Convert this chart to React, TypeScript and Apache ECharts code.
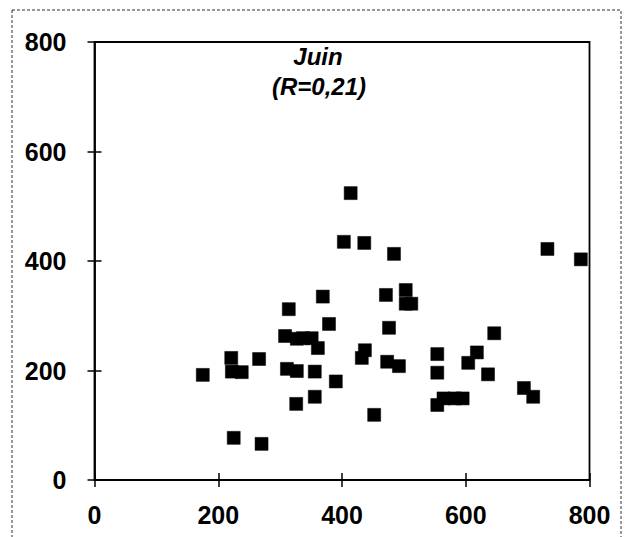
import React, { useEffect, useRef } from "react";
import * as echarts from "echarts";

const xValues = [175, 221, 222, 238, 266, 225, 270, 314, 308, 327, 337, 351, 361, 311, 327, 356, 326, 356, 369, 379, 390, 414, 403, 436, 484, 471, 476, 437, 432, 473, 492, 452, 503, 503, 512, 646, 554, 554, 554, 564, 582, 595, 618, 604, 636, 694, 709, 732, 786];
const yValues = [192, 223, 198, 197, 221, 77, 66, 312, 263, 258, 259, 259, 241, 203, 199, 198, 139, 152, 335, 285, 180, 524, 435, 433, 413, 338, 278, 237, 223, 216, 208, 119, 347, 322, 322, 268, 230, 196, 137, 149, 149, 149, 233, 214, 193, 168, 152, 422, 403];
const axisTicks = [0, 200, 400, 600, 800];
const titleText = "Juin";
const subText = "(R=0,21)";

export default function App() {
  const ref = useRef<HTMLDivElement>(null);
  useEffect(() => {
    document.body.style.margin = "0";
    const chart = echarts.init(ref.current!, undefined, { renderer: "svg" });
    const points = xValues.map((x, i) => [x, yValues[i]]);
    const font = "'Liberation Sans', Arial, sans-serif";
    const baseAxis = {
      type: "value",
      min: axisTicks[0],
      max: axisTicks[axisTicks.length - 1],
      interval: 200,
      splitLine: { show: false },
      axisLine: { show: true, lineStyle: { color: "#000", width: 1.8 } },
    };
    chart.setOption({
      animation: false,
      backgroundColor: "#fff",
      grid: {
        left: 94.5,
        top: 42,
        right: 37.5,
        bottom: 57,
        show: true,
        borderColor: "#000",
        borderWidth: 1.8,
        backgroundColor: "transparent",
      },
      xAxis: [
        {
          ...baseAxis,
          position: "bottom",
          axisTick: { show: true, inside: false, length: 7, lineStyle: { color: "#000", width: 1.5 } },
          axisLabel: { color: "#000", fontSize: 25, fontWeight: "bold", fontFamily: font, margin: 22 },
        },
        {
          ...baseAxis,
          position: "bottom",
          axisLine: { show: false },
          axisTick: { show: true, inside: true, length: 7, lineStyle: { color: "#000", width: 1.5 } },
          axisLabel: { show: false },
        },
      ],
      yAxis: [
        {
          ...baseAxis,
          position: "left",
          axisTick: { show: true, inside: false, length: 7, lineStyle: { color: "#000", width: 1.5 } },
          axisLabel: { color: "#000", fontSize: 25, fontWeight: "bold", fontFamily: font, margin: 28 },
        },
        {
          ...baseAxis,
          position: "left",
          axisLine: { show: false },
          axisTick: { show: true, inside: true, length: 7, lineStyle: { color: "#000", width: 1.5 } },
          axisLabel: { show: false },
        },
      ],
      graphic: [
        {
          type: "rect",
          shape: { x: 12, y: 10, width: 609, height: 540 },
          style: { fill: "none", stroke: "#333", lineWidth: 1, lineDash: [3, 2] },
          silent: true,
        },
        {
          type: "text",
          x: 318,
          y: 56,
          style: {
            text: titleText,
            fill: "#000",
            font: "italic bold 24px 'Liberation Sans', Arial, sans-serif",
            align: "center",
            verticalAlign: "middle",
          },
        },
        {
          type: "text",
          x: 319,
          y: 86,
          style: {
            text: subText,
            fill: "#000",
            font: "italic bold 24px 'Liberation Sans', Arial, sans-serif",
            align: "center",
            verticalAlign: "middle",
          },
        },
      ],
      series: [
        {
          type: "scatter",
          xAxisIndex: 0,
          yAxisIndex: 0,
          data: points,
          symbol: "rect",
          symbolSize: 13,
          itemStyle: { color: "#000", opacity: 1, borderColor: "#000", borderWidth: 0.5 },
        },
      ],
    });
    return () => chart.dispose();
  }, []);
  return <div ref={ref} style={{ width: 627, height: 537 }} />;
}
